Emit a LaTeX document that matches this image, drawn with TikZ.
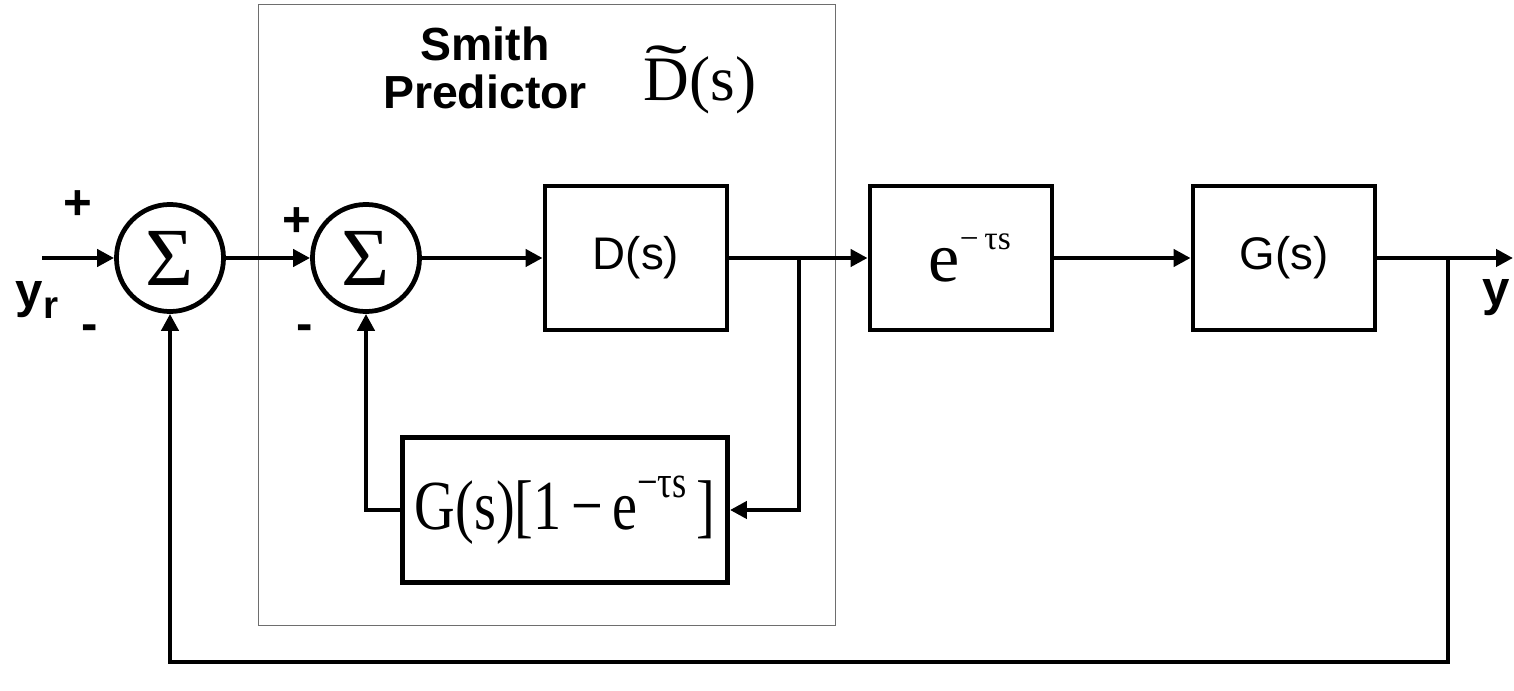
\documentclass[tikz,border=0pt]{standalone}
\usepackage{fontspec}
\setmainfont{Liberation Sans}
\newfontfamily\tnr{Liberation Serif}
\usepackage{tikz}
\usetikzlibrary{arrows.meta, positioning}
\definecolor{framegray}{RGB}{110,110,110}

\begin{document}
\begin{tikzpicture}[
    x=0.01cm, y=-0.01cm,
    sumnode/.style={circle, draw, line width=1.35pt, minimum size=1.07cm,
                    inner sep=0pt, font=\tnr\fontsize{23.5}{24}\selectfont},
    blk/.style    ={rectangle, draw, line width=1.35pt,
                    minimum width=1.82cm, minimum height=1.44cm, inner sep=0pt},
    sanslbl/.style={font=\fontsize{13}{15}\selectfont},
    serlbl/.style ={font=\tnr\fontsize{20}{22}\selectfont},
    sgn/.style    ={font=\bfseries\fontsize{14}{16}\selectfont, inner sep=0pt},
    predbox/.style={rectangle, draw=framegray, line width=0.35pt,
                    minimum width=5.76cm, minimum height=6.2cm, inner sep=0pt},
    arrow/.style  ={-{Triangle[length=4.8pt, width=4.8pt]}, line width=1.35pt}
]
\useasboundingbox (0,0) rectangle (1514,691);

% ============================================================
% SMITH PREDICTOR FRAME
% ============================================================

\node[predbox] (smith) at (547, 315) {};
\node[font=\bfseries\fontsize{13.2}{13.7}\selectfont, align=center, inner sep=0pt]
      (smithtxt) at (485, 68) {Smith\\Predictor};
\node[font=\tnr\fontsize{18}{20}\selectfont, inner sep=0pt] (dtilde) at (700, 80)
      {\makebox[0pt][l]{\raisebox{0.2em}{\hspace{0.03em}\scalebox{2.0}[1.0]{\char"02DC}}}D(s)};

% -- summing junctions --
\node[sumnode] (sum1) at (170, 258) {Σ};
\node[sumnode] (sum2) at (366, 258) {Σ};

% -- forward blocks --
\node[blk, sanslbl] (dblk)  at (636, 258)  {D(s)};
\node[blk, serlbl]  (delay) at (961, 258)
      {\raisebox{-0.15em}{\hspace{0.25em}e\raisebox{0.45em}{\fontsize{9.5}{10}\selectfont −\,τs}}};
\node[blk, sanslbl] (gblk)  at (1284, 258) {G(s)};

% -- predictor block --
\node[blk, serlbl, minimum width=3.25cm, minimum height=1.45cm] (pblk) at (565, 510)
      {\scalebox{0.8}[1]{G(s)[1\,−\,e\raisebox{0.45em}{\fontsize{13}{14}\selectfont −τs}\,]}};

% -- signs and signals --
\node[sgn] (p1) at (78, 205)  {+};
\node[sgn] (m1) at (90, 333)  {-};
\node[sgn] (p2) at (297, 222) {+};
\node[sgn] (m2) at (305, 333) {-};
\node[sgn] (yr) at (37, 300)  {y\raisebox{-0.4ex}{\fontsize{11}{12}\selectfont r}};
\node[sgn] (yo) at (1496, 298) {y};

% -- wire ends --
\coordinate (yin)  at (42, 258);
\coordinate (yout) at (1513, 258);
\coordinate (br1)  at (799, 258);
\coordinate (br2)  at (1448, 258);
\coordinate (fb)   at (1448, 662);

% ============================================================
% FLECHES
% ============================================================

\draw[arrow] (yin)        -- (sum1.west);
\draw[arrow] (sum1.east)  -- (sum2.west);
\draw[arrow] (sum2.east)  -- (dblk.west);
\draw[arrow] (dblk.east)  -- (delay.west);
\draw[arrow] (delay.east) -- (gblk.west);
\draw[arrow] (gblk.east)  -- (yout);

% inner loop
\draw[arrow] (br1) |- (pblk.east);
\draw[arrow] (pblk.west) -| (sum2.south);

% outer loop
\draw[arrow] (br2) -- (fb) -| (sum1.south);

\end{tikzpicture}
\end{document}
